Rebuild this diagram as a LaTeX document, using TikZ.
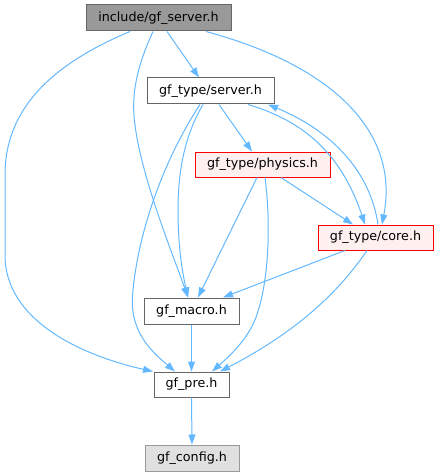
\documentclass[tikz,border=0pt]{standalone}
\usepackage{fontspec}
\setmainfont{DejaVu Sans}
\usetikzlibrary{arrows.meta}
\definecolor{edgec}{HTML}{63B8FF}
\definecolor{boxg}{HTML}{666666}
\definecolor{topfill}{HTML}{999999}
\definecolor{redfill}{HTML}{FFF0F0}
\definecolor{cfgfill}{HTML}{E0E0E0}
\definecolor{cfgdraw}{HTML}{999999}
\tikzset{
  box/.style={draw=boxg, fill=white, line width=1pt, inner sep=0pt, font=\fontsize{12.7}{15}\selectfont, text=black},
  topbox/.style={box, fill=topfill},
  redbox/.style={box, draw=red, fill=redfill},
  cfgbox/.style={box, draw=cfgdraw, fill=cfgfill},
  dep/.style={draw=edgec, line width=1pt, -{Triangle[length=10pt,width=7pt]}}
}
\begin{document}
\begin{tikzpicture}[x=1pt,y=-1pt]
\useasboundingbox (0,0) rectangle (439,476);
\node[topbox, minimum width=145pt, minimum height=26pt] (top) at (158.5,18) {include/gf\_server.h};
\node[box, minimum width=127pt, minimum height=26pt] (srv) at (210.5,91) {gf\_type/server.h};
\node[redbox, minimum width=135pt, minimum height=25pt] (phys) at (262.5,164.5) {gf\_type/physics.h};
\node[redbox, minimum width=115pt, minimum height=25pt] (core) at (375.5,237.5) {gf\_type/core.h};
\node[box, minimum width=95pt, minimum height=26pt] (macro) at (191.5,311) {gf\_macro.h};
\node[box, minimum width=75pt, minimum height=25pt] (pre) at (191.5,384.5) {gf\_pre.h};
\node[cfgbox, minimum width=94pt, minimum height=26pt] (cfg) at (192,458) {gf\_config.h};

% include/gf_server.h
\draw[dep] ([xshift=8.5pt]top.south) -- ([xshift=-11.5pt]srv.north);
\draw[dep] ([xshift=-5.5pt]top.south) .. controls (140,60) and (130,90) .. (135,125)
   .. controls (142,180) and (175,260) .. ([xshift=-3.5pt]macro.north);
\draw[dep] ([xshift=-28.5pt]top.south) .. controls (50,65) and (5,110) .. (5,175) -- (5,255)
   .. controls (5,320) and (80,355) .. ([xshift=-38.5pt]pre.north);
\draw[dep] ([xshift=47.5pt]top.south) .. controls (330,65) and (400,130) .. ([xshift=6.5pt]core.north);

% gf_type/server.h
\draw[dep] ([xshift=8.5pt]srv.south) -- ([xshift=-10.5pt]phys.north);
\draw[dep] ([xshift=37.5pt]srv.south) .. controls (300,120) and (340,150) .. ([xshift=-10.5pt]core.north);
\draw[dep] ([xshift=-7.5pt]srv.south) .. controls (185,135) and (178,170) .. (178,210)
   .. controls (178,250) and (183,275) .. ([xshift=-3.5pt]macro.north);
\draw[dep] ([xshift=-10.5pt]srv.south) .. controls (170,150) and (140,220) .. (133,290)
   .. controls (128,330) and (150,350) .. ([xshift=-16.5pt]pre.north);

% gf_type/physics.h
\draw[dep] ([xshift=-5.5pt]phys.south) -- ([xshift=6.5pt]macro.north);
\draw[dep] ([xshift=18.5pt]phys.south) -- ([xshift=-22.5pt]core.north);
\draw[dep] ([xshift=2.5pt]phys.south) .. controls (272,230) and (268,300) .. (250,330)
   .. controls (240,347) and (225,360) .. ([xshift=20.5pt]pre.north);

% gf_type/core.h
\draw[dep] ([xshift=2.5pt]core.north) .. controls (370,170) and (330,130) .. ([xshift=57.5pt]srv.south);
\draw[dep] ([xshift=-30.5pt]core.south) -- ([xshift=31.5pt]macro.north);
\draw[dep] ([xshift=-8.5pt]core.south) .. controls (340,290) and (300,330) .. ([xshift=28.5pt]pre.north);

% gf_macro.h, gf_pre.h
\draw[dep] (macro.south) -- (pre.north);
\draw[dep] (pre.south) -- (cfg.north);
\end{tikzpicture}
\end{document}
